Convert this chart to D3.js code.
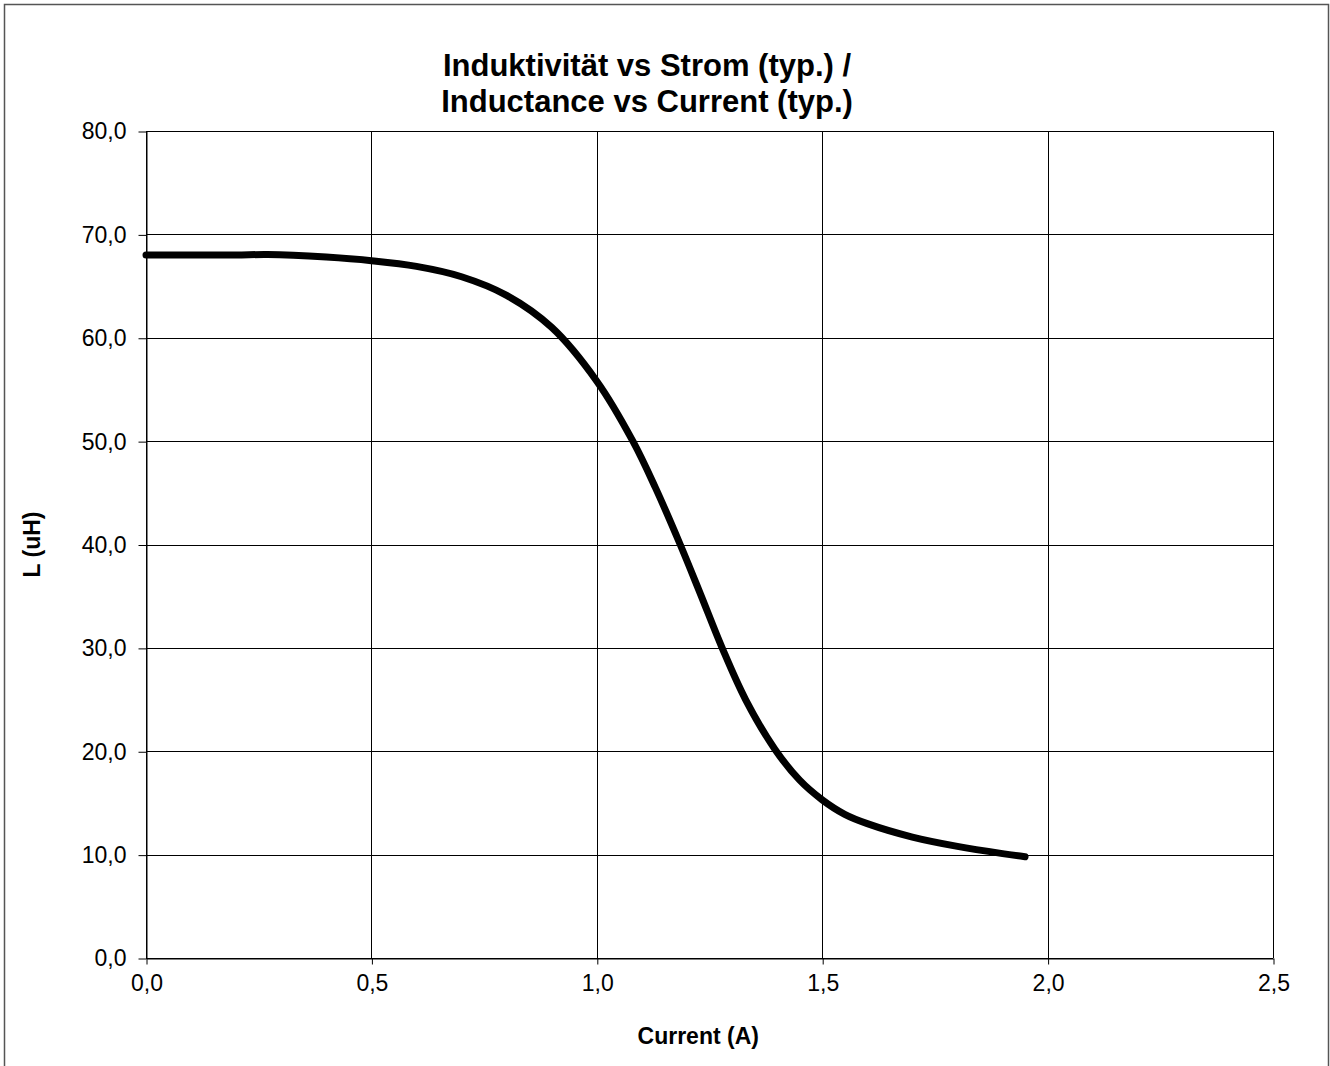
<!DOCTYPE html>
<html>
<head>
<meta charset="utf-8">
<script src="https://cdn.jsdelivr.net/npm/d3@7"></script>
<style>
  body { margin: 0; background: #fff; }
  text { font-family: "Liberation Sans", Arial, sans-serif; fill: #000; }
</style>
</head>
<body>
<div id="chart"></div>
<script>
// curve: current (A) and inductance (uH)
let current = [0.0, 0.1, 0.2, 0.27, 0.4, 0.5, 0.6, 0.7, 0.8, 0.9, 1.0, 1.08, 1.13, 1.185, 1.23, 1.278, 1.33, 1.395, 1.45, 1.5, 1.55, 1.6, 1.7, 1.8, 1.9, 1.95];
let inductance = [68.0, 68.0, 68.0, 68.05, 67.8, 67.45, 66.9, 65.9, 64.1, 61.0, 55.8, 50.0, 45.5, 40.0, 35.2, 30.0, 25.0, 20.2, 17.2, 15.3, 13.9, 13.0, 11.7, 10.8, 10.1, 9.8];

let xTicks = [0, 0.5, 1.0, 1.5, 2.0, 2.5];
let yTicks = [0, 10, 20, 30, 40, 50, 60, 70, 80];

let titleLines = ["Induktivität vs Strom (typ.) /", "Inductance vs Current (typ.)"];
let xTitle = "Current (A)";
let yTitle = "L (uH)";

let svgWidth = 1330;
let svgHeight = 1066;

let margin = { top: 131, right: 57, bottom: 108, left: 146 };
let width = svgWidth - margin.left - margin.right;
let height = svgHeight - margin.top - margin.bottom;

let fmt = d => d.toFixed(1).replace(".", ",");

let svg = d3.select("#chart").append("svg")
  .attr("width", svgWidth)
  .attr("height", svgHeight);

// outer frame
svg.append("rect")
  .attr("x", 4.5).attr("y", 4.5)
  .attr("width", svgWidth - 6).attr("height", svgHeight + 10)
  .attr("fill", "none")
  .attr("stroke", "#555")
  .attr("stroke-width", 1.5);

let g = svg.append("g")
  .attr("transform", `translate(${margin.left}, ${margin.top})`);

let x = d3.scaleLinear().domain([0, 2.5]).range([0, width]);
let y = d3.scaleLinear().domain([0, 80]).range([height, 0]);

// gridlines
g.append("g")
  .selectAll("line")
  .data(yTicks)
  .enter()
  .append("line")
  .attr("x1", 0).attr("x2", width)
  .attr("y1", d => Math.round(y(d)) + 0.5)
  .attr("y2", d => Math.round(y(d)) + 0.5)
  .attr("stroke", "#000")
  .attr("stroke-width", 1);

g.append("g")
  .selectAll("line")
  .data(xTicks)
  .enter()
  .append("line")
  .attr("y1", 0).attr("y2", height)
  .attr("x1", d => Math.round(x(d)) + 0.5)
  .attr("x2", d => Math.round(x(d)) + 0.5)
  .attr("stroke", "#000")
  .attr("stroke-width", 1);

// axes
let bottomAxis = d3.axisBottom(x).tickValues(xTicks).tickFormat(fmt).tickSize(6).tickSizeOuter(0);
let leftAxis = d3.axisLeft(y).tickValues(yTicks).tickFormat(fmt).tickSize(8).tickSizeOuter(0);

let xAxisG = g.append("g")
  .attr("transform", `translate(0.5, ${Math.round(height) + 0.5})`)
  .call(bottomAxis);
let yAxisG = g.append("g")
  .attr("transform", "translate(0.5, 0.5)")
  .call(leftAxis);

[xAxisG, yAxisG].forEach(a => {
  a.attr("font-size", null).attr("font-family", null);
  a.select(".domain").attr("stroke", "#000");
  a.selectAll(".tick line").attr("stroke", "#000");
  a.selectAll(".tick text")
    .style("font-family", "'Liberation Sans', Arial, sans-serif")
    .style("font-size", "23px")
    .attr("fill", "#000");
});
xAxisG.selectAll(".tick text").attr("dy", "1.05em").attr("y", 8);
yAxisG.selectAll(".tick text").attr("x", -20);

// curve
let points = current.map((c, i) => [c, inductance[i]]);
let line = d3.line()
  .x(d => x(d[0]))
  .y(d => y(d[1]))
  .curve(d3.curveCatmullRom.alpha(0.5));

g.append("path")
  .datum(points)
  .attr("d", line)
  .attr("fill", "none")
  .attr("stroke", "#000")
  .attr("stroke-width", 7)
  .attr("stroke-linecap", "round")
  .attr("stroke-linejoin", "round");

// titles
svg.append("text")
  .attr("x", 647)
  .attr("text-anchor", "middle")
  .style("font-weight", "bold")
  .style("font-size", "31px")
  .selectAll("tspan")
  .data(titleLines)
  .enter()
  .append("tspan")
  .attr("x", 647)
  .attr("y", (d, i) => 76 + i * 36)
  .text(d => d);

svg.append("text")
  .attr("x", margin.left + width * 0.49)
  .attr("y", 1044)
  .attr("text-anchor", "middle")
  .style("font-weight", "bold")
  .style("font-size", "23px")
  .text(xTitle);

svg.append("text")
  .attr("transform", `translate(40, ${margin.top + height / 2}) rotate(-90)`)
  .attr("text-anchor", "middle")
  .style("font-weight", "bold")
  .style("font-size", "23px")
  .text(yTitle);
</script>
</body>
</html>
